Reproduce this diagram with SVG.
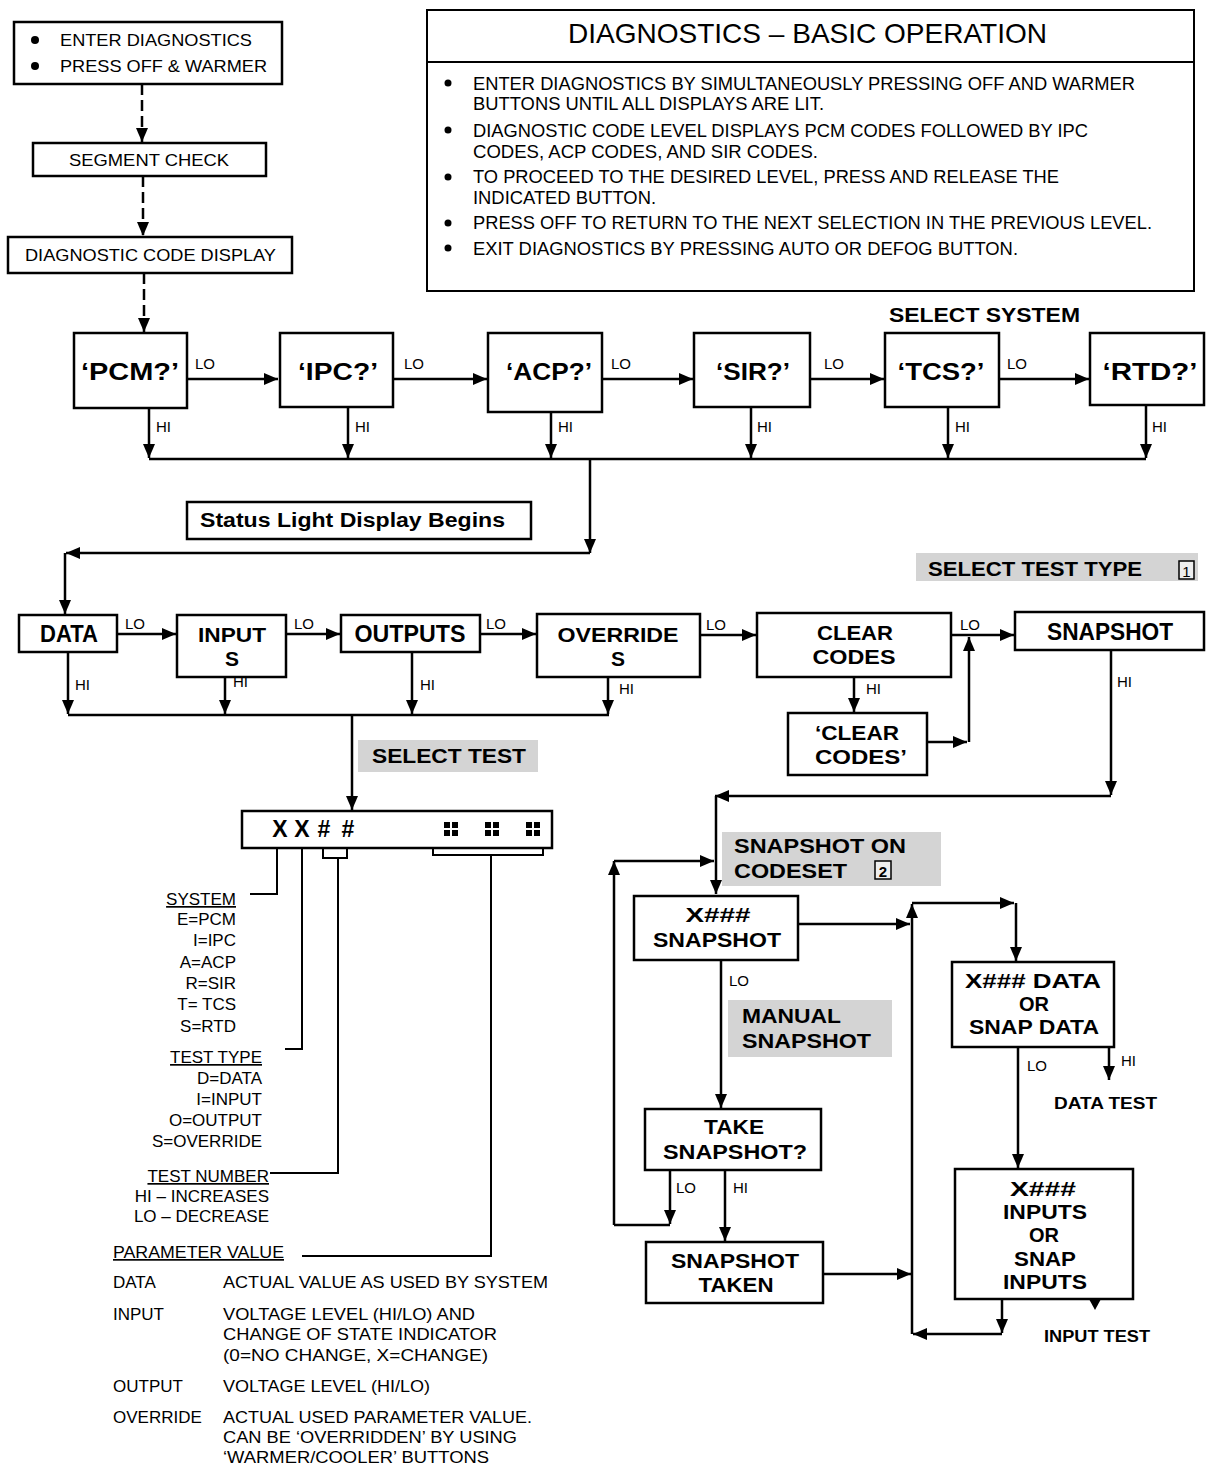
<svg xmlns="http://www.w3.org/2000/svg" width="1209" height="1470" viewBox="0 0 1209 1470">
<style>
.box{fill:#fff;stroke:#000;stroke-width:2.5}
.ln{fill:none;stroke:#000;stroke-width:2.5}
.lg{fill:none;stroke:#000;stroke-width:2}
.dash{fill:none;stroke:#000;stroke-width:2.5;stroke-dasharray:11 5}
.t{font-family:"Liberation Sans",Arial,Helvetica,sans-serif;fill:#000}
.b{font-weight:bold}
.c{text-anchor:middle}
.r{text-anchor:end}
.s17{font-size:17px}
.s18{font-size:18px}
.s15{font-size:15px}
.s23{font-size:23px}
.s20{font-size:20px}
.s21{font-size:21px}
.hl{fill:#d4d4d4}
.ah{marker-end:url(#ah)}
</style>
<defs>
<marker id="ah" viewBox="0 0 14 12" refX="14" refY="6" markerWidth="14" markerHeight="12" markerUnits="userSpaceOnUse" orient="auto"><path d="M0,0 L14,6 L0,12 z" fill="#000"/></marker>
</defs>
<rect width="1209" height="1470" fill="#fff"/>

<!-- connectors -->
<g id="connectors">
<path class="dash ah" d="M142,84 V142"/>
<path class="dash ah" d="M143,176 V236"/>
<path class="dash ah" d="M144,273 V332"/>
<!-- system row LO -->
<path class="ln ah" d="M187,379 H278"/>
<path class="ln ah" d="M393,379 H487"/>
<path class="ln ah" d="M602,379 H693"/>
<path class="ln ah" d="M810,379 H884"/>
<path class="ln ah" d="M999,379 H1089"/>
<!-- system HI -->
<path class="ln ah" d="M149,408 V458"/>
<path class="ln ah" d="M348,407 V458"/>
<path class="ln ah" d="M551,412 V458"/>
<path class="ln ah" d="M751,407 V458"/>
<path class="ln ah" d="M948,407 V458"/>
<path class="ln ah" d="M1146,405 V458"/>
<path class="ln" d="M149,459 H1146"/>
<path class="ln ah" d="M590,459 V553"/>
<path class="ln ah" d="M590,553 H66"/>
<path class="ln ah" d="M65,553 V614"/>
<!-- test type row LO -->
<path class="ln ah" d="M117,634 H176"/>
<path class="ln ah" d="M286,634 H340"/>
<path class="ln ah" d="M480,634 H536"/>
<path class="ln ah" d="M700,635 H756"/>
<path class="ln ah" d="M951,635 H1014"/>
<!-- test type HI -->
<path class="ln ah" d="M68,652 V714"/>
<path class="ln ah" d="M225,677 V714"/>
<path class="ln ah" d="M412,652 V714"/>
<path class="ln ah" d="M608,677 V714"/>
<path class="ln" d="M68,715 H609"/>
<path class="ln ah" d="M352,715 V810"/>
<path class="ln ah" d="M854,677 V712"/>
<path class="ln ah" d="M927,742 H967"/>
<path class="ln ah" d="M969,742 V637"/>
<path class="ln ah" d="M1111,650 V795"/>
<path class="ln ah" d="M1111,796 H715"/>
<path class="ln ah" d="M716,796 V894"/>
<!-- snapshot area -->
<path class="ln ah" d="M614,1225 V861"/>
<path class="ln ah" d="M614,861 H714"/>
<path class="ln ah" d="M670,1170 V1224"/>
<path class="ln" d="M670,1225 H614"/>
<path class="ln ah" d="M721,960 V1108"/>
<path class="ln ah" d="M725,1170 V1241"/>
<path class="ln ah" d="M798,924 H910"/>
<path class="ln ah" d="M823,1274 H911"/>
<path class="ln ah" d="M912,1334 V904"/>
<path class="ln ah" d="M912,903 H1014"/>
<path class="ln ah" d="M1016,903 V961"/>
<path class="ln ah" d="M1018,1047 V1168"/>
<path class="ln ah" d="M1109,1047 V1080"/>
<path class="ln ah" d="M1002,1299 V1333"/>
<path class="ln ah" d="M1002,1334 H913"/>
<path d="M1089,1299 L1101,1299 L1095,1310 z" fill="#000"/>
<!-- legend leaders -->
<path class="lg" d="M250,894 H277 V848"/>
<path class="lg" d="M285,1049 H302 V848"/>
<path class="lg" d="M323,848 V858 H347 V848"/>
<path class="lg" d="M338,858 V1173 H270"/>
<path class="lg" d="M433,842 V855 H543 V842"/>
<path class="lg" d="M491,855 V1256 H302"/>
</g>

<!-- labels on connectors -->
<g id="edge-labels" class="t s15">
<text x="195" y="369">LO</text>
<text x="404" y="369">LO</text>
<text x="611" y="369">LO</text>
<text x="824" y="369">LO</text>
<text x="1007" y="369">LO</text>
<text x="156" y="432">HI</text>
<text x="355" y="432">HI</text>
<text x="558" y="432">HI</text>
<text x="757" y="432">HI</text>
<text x="955" y="432">HI</text>
<text x="1152" y="432">HI</text>
<text x="125" y="629">LO</text>
<text x="294" y="629">LO</text>
<text x="486" y="629">LO</text>
<text x="706" y="630">LO</text>
<text x="960" y="630">LO</text>
<text x="75" y="690">HI</text>
<text x="233" y="687">HI</text>
<text x="420" y="690">HI</text>
<text x="619" y="694">HI</text>
<text x="866" y="694">HI</text>
<text x="1117" y="687">HI</text>
<text x="729" y="986">LO</text>
<text x="1027" y="1071">LO</text>
<text x="1121" y="1066">HI</text>
<text x="676" y="1193">LO</text>
<text x="733" y="1193">HI</text>
</g>

<!-- top left flow -->
<g id="n-enter">
<rect class="box" x="14" y="22" width="268" height="62"/>
<circle cx="35" cy="40" r="4"/>
<circle cx="35" cy="66" r="4"/>
<text class="t s17" x="60" y="46" textLength="192" lengthAdjust="spacingAndGlyphs">ENTER DIAGNOSTICS</text>
<text class="t s17" x="60" y="72" textLength="207" lengthAdjust="spacingAndGlyphs">PRESS OFF &amp; WARMER</text>
</g>
<g id="n-segment">
<rect class="box" x="33" y="143" width="233" height="33"/>
<text class="t s17" x="69" y="166" textLength="160" lengthAdjust="spacingAndGlyphs">SEGMENT CHECK</text>
</g>
<g id="n-dcd">
<rect class="box" x="8" y="237" width="284" height="36"/>
<text class="t s17" x="25" y="261" textLength="251" lengthAdjust="spacingAndGlyphs">DIAGNOSTIC CODE DISPLAY</text>
</g>

<!-- title box -->
<g id="n-title">
<rect x="427" y="10" width="767" height="281" fill="#fff" stroke="#000" stroke-width="2"/>
<line x1="427" y1="62" x2="1194" y2="62" stroke="#000" stroke-width="2"/>
<text class="t" x="568" y="43" font-size="28" textLength="479" lengthAdjust="spacingAndGlyphs">DIAGNOSTICS – BASIC OPERATION</text>
<g fill="#000">
<circle cx="448" cy="83" r="3.5"/>
<circle cx="448" cy="130" r="3.5"/>
<circle cx="448" cy="177" r="3.5"/>
<circle cx="448" cy="223" r="3.5"/>
<circle cx="448" cy="248" r="3.5"/>
</g>
<g class="t s18">
<text x="473" y="90" textLength="662" lengthAdjust="spacingAndGlyphs">ENTER DIAGNOSTICS BY SIMULTANEOUSLY PRESSING OFF AND WARMER</text>
<text x="473" y="110" textLength="351" lengthAdjust="spacingAndGlyphs">BUTTONS UNTIL ALL DISPLAYS ARE LIT.</text>
<text x="473" y="137" textLength="615" lengthAdjust="spacingAndGlyphs">DIAGNOSTIC CODE LEVEL DISPLAYS PCM CODES FOLLOWED BY IPC</text>
<text x="473" y="158" textLength="345" lengthAdjust="spacingAndGlyphs">CODES, ACP CODES, AND SIR CODES.</text>
<text x="473" y="183" textLength="586" lengthAdjust="spacingAndGlyphs">TO PROCEED TO THE DESIRED LEVEL, PRESS AND RELEASE THE</text>
<text x="473" y="204" textLength="183" lengthAdjust="spacingAndGlyphs">INDICATED BUTTON.</text>
<text x="473" y="229" textLength="679" lengthAdjust="spacingAndGlyphs">PRESS OFF TO RETURN TO THE NEXT SELECTION IN THE PREVIOUS LEVEL.</text>
<text x="473" y="255" textLength="545" lengthAdjust="spacingAndGlyphs">EXIT DIAGNOSTICS BY PRESSING AUTO OR DEFOG BUTTON.</text>
</g>
</g>

<!-- select system -->
<g id="lbl-select-system">
<text class="t b s21" x="889" y="322" textLength="191" lengthAdjust="spacingAndGlyphs">SELECT SYSTEM</text>
</g>
<g id="n-pcm"><rect class="box" x="74" y="333" width="113" height="75"/><text class="t b c" x="130" y="380" font-size="24" textLength="98" lengthAdjust="spacingAndGlyphs">‘PCM?’</text></g>
<g id="n-ipc"><rect class="box" x="280" y="333" width="113" height="74"/><text class="t b c" x="338" y="380" font-size="24" textLength="80" lengthAdjust="spacingAndGlyphs">‘IPC?’</text></g>
<g id="n-acp"><rect class="box" x="488" y="333" width="114" height="79"/><text class="t b c" x="549" y="380" font-size="24" textLength="86" lengthAdjust="spacingAndGlyphs">‘ACP?’</text></g>
<g id="n-sir"><rect class="box" x="694" y="333" width="116" height="74"/><text class="t b c" x="753" y="380" font-size="24" textLength="74" lengthAdjust="spacingAndGlyphs">‘SIR?’</text></g>
<g id="n-tcs"><rect class="box" x="885" y="333" width="114" height="74"/><text class="t b c" x="941" y="380" font-size="24" textLength="87" lengthAdjust="spacingAndGlyphs">‘TCS?’</text></g>
<g id="n-rtd"><rect class="box" x="1090" y="333" width="114" height="72"/><text class="t b c" x="1150" y="380" font-size="24" textLength="95" lengthAdjust="spacingAndGlyphs">‘RTD?’</text></g>

<g id="n-status">
<rect class="box" x="187" y="502" width="344" height="37"/>
<text class="t b" x="200" y="527" font-size="20" textLength="305" lengthAdjust="spacingAndGlyphs">Status Light Display Begins</text>
</g>

<!-- select test type -->
<g id="lbl-select-test-type">
<rect class="hl" x="916" y="553" width="282" height="28"/>
<text class="t b s21" x="928" y="576" textLength="214" lengthAdjust="spacingAndGlyphs">SELECT TEST TYPE</text>
<rect x="1179" y="561" width="15" height="18" fill="#eee" stroke="#000" stroke-width="1.5"/>
<text class="t c" x="1186.5" y="577" font-size="15">1</text>
</g>
<g id="n-data"><rect class="box" x="19" y="615" width="98" height="37"/><text class="t b c s23" x="69" y="642" textLength="58" lengthAdjust="spacingAndGlyphs">DATA</text></g>
<g id="n-inputs"><rect class="box" x="177" y="615" width="109" height="62"/><text class="t b c s21" x="232" y="642" textLength="68" lengthAdjust="spacingAndGlyphs">INPUT</text><text class="t b c s21" x="232" y="666">S</text></g>
<g id="n-outputs"><rect class="box" x="341" y="615" width="139" height="37"/><text class="t b c s23" x="410" y="642" textLength="111" lengthAdjust="spacingAndGlyphs">OUTPUTS</text></g>
<g id="n-overrides"><rect class="box" x="537" y="614" width="163" height="63"/><text class="t b c s21" x="618" y="642" textLength="121" lengthAdjust="spacingAndGlyphs">OVERRIDE</text><text class="t b c s21" x="618" y="666">S</text></g>
<g id="n-clear"><rect class="box" x="757" y="613" width="194" height="64"/><text class="t b c s21" x="855" y="640" textLength="76" lengthAdjust="spacingAndGlyphs">CLEAR</text><text class="t b c s21" x="854" y="664" textLength="83" lengthAdjust="spacingAndGlyphs">CODES</text></g>
<g id="n-snapshot"><rect class="box" x="1015" y="612" width="189" height="38"/><text class="t b c s23" x="1110" y="640" textLength="126" lengthAdjust="spacingAndGlyphs">SNAPSHOT</text></g>
<g id="n-clear-q"><rect class="box" x="788" y="713" width="139" height="62"/><text class="t b c s21" x="857" y="740" textLength="84" lengthAdjust="spacingAndGlyphs">‘CLEAR</text><text class="t b c s21" x="861" y="764" textLength="92" lengthAdjust="spacingAndGlyphs">CODES’</text></g>

<g id="lbl-select-test">
<rect class="hl" x="358" y="740" width="180" height="32"/>
<text class="t b s21" x="372" y="763" textLength="154" lengthAdjust="spacingAndGlyphs">SELECT TEST</text>
</g>

<!-- code display -->
<g id="n-code">
<rect class="box" x="242" y="811" width="310" height="37"/>
<text class="t b c" x="280" y="837" font-size="23">X</text>
<text class="t b c" x="302" y="837" font-size="23">X</text>
<text class="t b c" x="324" y="837" font-size="23">#</text>
<text class="t b c" x="348" y="837" font-size="23">#</text>
<g fill="#000">
<rect x="444" y="822" width="6" height="6"/><rect x="452" y="822" width="6" height="6"/><rect x="444" y="830" width="6" height="6"/><rect x="452" y="830" width="6" height="6"/>
<rect x="485" y="822" width="6" height="6"/><rect x="493" y="822" width="6" height="6"/><rect x="485" y="830" width="6" height="6"/><rect x="493" y="830" width="6" height="6"/>
<rect x="526" y="822" width="6" height="6"/><rect x="534" y="822" width="6" height="6"/><rect x="526" y="830" width="6" height="6"/><rect x="534" y="830" width="6" height="6"/>
</g>
</g>

<!-- legend -->
<g id="legend" class="t s17">
<text class="r" x="236" y="905" text-decoration="underline">SYSTEM</text>
<text class="r" x="236" y="925">E=PCM</text>
<text class="r" x="236" y="946">I=IPC</text>
<text class="r" x="236" y="968">A=ACP</text>
<text class="r" x="236" y="989">R=SIR</text>
<text class="r" x="236" y="1010">T= TCS</text>
<text class="r" x="236" y="1032">S=RTD</text>
<text class="r" x="262" y="1063" text-decoration="underline">TEST TYPE</text>
<text class="r" x="262" y="1084">D=DATA</text>
<text class="r" x="262" y="1105">I=INPUT</text>
<text class="r" x="262" y="1126">O=OUTPUT</text>
<text class="r" x="262" y="1147">S=OVERRIDE</text>
<text class="r" x="269" y="1182" text-decoration="underline">TEST NUMBER</text>
<text class="r" x="269" y="1202">HI – INCREASES</text>
<text class="r" x="269" y="1222">LO – DECREASE</text>
<text x="113" y="1258" text-decoration="underline" textLength="171" lengthAdjust="spacingAndGlyphs">PARAMETER VALUE</text>
<text x="113" y="1288">DATA</text>
<text x="223" y="1288" textLength="325" lengthAdjust="spacingAndGlyphs">ACTUAL VALUE AS USED BY SYSTEM</text>
<text x="113" y="1320">INPUT</text>
<text x="223" y="1320" textLength="252" lengthAdjust="spacingAndGlyphs">VOLTAGE LEVEL (HI/LO) AND</text>
<text x="223" y="1340" textLength="274" lengthAdjust="spacingAndGlyphs">CHANGE OF STATE INDICATOR</text>
<text x="223" y="1361" textLength="265" lengthAdjust="spacingAndGlyphs">(0=NO CHANGE, X=CHANGE)</text>
<text x="113" y="1392">OUTPUT</text>
<text x="223" y="1392" textLength="207" lengthAdjust="spacingAndGlyphs">VOLTAGE LEVEL (HI/LO)</text>
<text x="113" y="1423">OVERRIDE</text>
<text x="223" y="1423" textLength="309" lengthAdjust="spacingAndGlyphs">ACTUAL USED PARAMETER VALUE.</text>
<text x="223" y="1443" textLength="294" lengthAdjust="spacingAndGlyphs">CAN BE ‘OVERRIDDEN’ BY USING</text>
<text x="223" y="1463" textLength="266" lengthAdjust="spacingAndGlyphs">‘WARMER/COOLER’ BUTTONS</text>
</g>

<!-- snapshot area -->
<g id="lbl-snapshot-on-codeset">
<rect class="hl" x="722" y="832" width="219" height="54"/>
<text class="t b s21" x="734" y="853" textLength="172" lengthAdjust="spacingAndGlyphs">SNAPSHOT ON</text>
<text class="t b s21" x="734" y="878" textLength="113" lengthAdjust="spacingAndGlyphs">CODESET</text>
<rect x="875" y="861" width="16" height="18" fill="#eee" stroke="#000" stroke-width="1.5"/>
<text class="t b c" x="883" y="877" font-size="15">2</text>
</g>
<g id="n-xsnap"><rect class="box" x="634" y="896" width="164" height="64"/><text class="t b c s21" x="718" y="922" textLength="65" lengthAdjust="spacingAndGlyphs">X###</text><text class="t b c s21" x="717" y="947" textLength="128" lengthAdjust="spacingAndGlyphs">SNAPSHOT</text></g>
<g id="lbl-manual">
<rect class="hl" x="728" y="1000" width="164" height="57"/>
<text class="t b s21" x="742" y="1023" textLength="99" lengthAdjust="spacingAndGlyphs">MANUAL</text>
<text class="t b s21" x="742" y="1048" textLength="129" lengthAdjust="spacingAndGlyphs">SNAPSHOT</text>
</g>
<g id="n-take"><rect class="box" x="645" y="1109" width="176" height="61"/><text class="t b c s21" x="734" y="1134" textLength="60" lengthAdjust="spacingAndGlyphs">TAKE</text><text class="t b c s21" x="735" y="1159" textLength="144" lengthAdjust="spacingAndGlyphs">SNAPSHOT?</text></g>
<g id="n-taken"><rect class="box" x="646" y="1242" width="177" height="61"/><text class="t b c s21" x="735" y="1268" textLength="128" lengthAdjust="spacingAndGlyphs">SNAPSHOT</text><text class="t b c s21" x="736" y="1292" textLength="75" lengthAdjust="spacingAndGlyphs">TAKEN</text></g>
<g id="n-xdata"><rect class="box" x="952" y="962" width="162" height="85"/><text class="t b c s20" x="1033" y="988" textLength="136" lengthAdjust="spacingAndGlyphs">X### DATA</text><text class="t b c s20" x="1034" y="1011">OR</text><text class="t b c s20" x="1034" y="1034" textLength="130" lengthAdjust="spacingAndGlyphs">SNAP DATA</text></g>
<g id="lbl-data-test"><text class="t b" x="1054" y="1109" font-size="16" textLength="103" lengthAdjust="spacingAndGlyphs">DATA TEST</text></g>
<g id="n-xinputs"><rect class="box" x="955" y="1169" width="178" height="130"/>
<text class="t b c s20" x="1043" y="1196" textLength="66" lengthAdjust="spacingAndGlyphs">X###</text>
<text class="t b c s20" x="1045" y="1219" textLength="84" lengthAdjust="spacingAndGlyphs">INPUTS</text>
<text class="t b c s20" x="1044" y="1242">OR</text>
<text class="t b c s20" x="1045" y="1266" textLength="62" lengthAdjust="spacingAndGlyphs">SNAP</text>
<text class="t b c s20" x="1045" y="1289" textLength="84" lengthAdjust="spacingAndGlyphs">INPUTS</text>
</g>
<g id="lbl-input-test"><text class="t b" x="1044" y="1342" font-size="16" textLength="106" lengthAdjust="spacingAndGlyphs">INPUT TEST</text></g>
</svg>
